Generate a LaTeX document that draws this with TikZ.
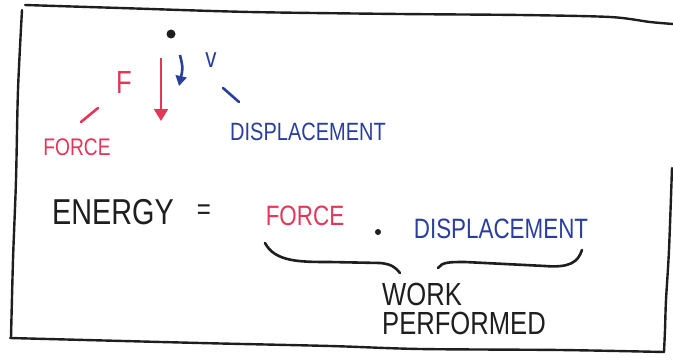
\documentclass[tikz,border=0pt]{standalone}
\usepackage{fontspec}
\setmainfont[FakeStretch=0.8]{Liberation Sans}
\usepackage{tikz}
\usetikzlibrary{arrows.meta}
\definecolor{wforce}{HTML}{E2365A}
\definecolor{wdisp}{HTML}{2A3F9C}
\definecolor{wink}{HTML}{1E1E1E}
\tikzset{wtext/.style={inner sep=0pt, anchor=center, text=wink}}
\tikzset{wforcetext/.style={wtext, text=wforce}}
\tikzset{wdisptext/.style={wtext, text=wdisp}}
\tikzset{wframe/.style={draw=wink, line width=2.4pt, line cap=round, line join=round}}
\tikzset{wforcevec/.style={-{Triangle[length=12pt, width=14pt]}, draw=wforce, line width=2.2pt}}
\tikzset{wdispvec/.style={-{Triangle[length=10pt, width=11pt]}, draw=wdisp, line width=2.6pt}}
\tikzset{wtick/.style={line width=2.6pt, line cap=round}}
\tikzset{wbrace/.style={draw=wink, line width=2.6pt, line cap=round}}

\begin{document}
\begin{tikzpicture}[x=1pt, y=-1pt]
  \useasboundingbox (0,0) rectangle (673,364);

  % hand-drawn frame
  \draw[wframe] plot[smooth] coordinates {(25,5) (120,8) (250,12) (400,14) (520,15) (610,17) (650,22) (673,24)};
  \draw[wframe] plot[smooth] coordinates {(22,10) (18,90) (16,180) (13,260) (11,338)};
  \draw[wframe] plot[smooth] coordinates {(10,338) (200,343) (330,346) (420,349) (560,350) (664,352)};
  \draw[wframe] plot[smooth] coordinates {(672,168) (669,250) (666,300) (665,330) (664,352)};

  % the body and its two vectors
  \node[circle, fill=wink, inner sep=0pt, minimum size=9pt] (body) at (171,34) {};
  \coordinate (ftail) at (161,58);
  \coordinate (fhead) at (161,121);
  \coordinate (vtail) at (180,55);
  \coordinate (vhead) at (179,86);
  \draw[wforcevec] (ftail) -- (fhead);
  \draw[wdispvec] (vtail) .. controls (183,68) .. (vhead);

  \node[wforcetext, font=\fontsize{32}{34}\selectfont] (fsym) at (124,82) {F};
  \node[wdisptext, font=\fontsize{28}{30}\selectfont] (vsym) at (211,60) {v};
  \node[wforcetext, font=\fontsize{24}{26}\selectfont] (forcelbl) at (77,147) {FORCE};
  \node[wdisptext, font=\fontsize{25}{27}\selectfont] (displbl) at (308,132) {DISPLACEMENT};

  \coordinate (ftick1) at (81,122);
  \coordinate (ftick2) at (98,108);
  \coordinate (vtick1) at (223,88);
  \coordinate (vtick2) at (239,102);
  \draw[wtick, draw=wforce] (ftick1) -- (ftick2);
  \draw[wtick, draw=wdisp] (vtick1) -- (vtick2);

  % the relation
  \node[wtext, font=\fontsize{36}{38}\selectfont] (energy) at (113,212) {ENERGY};
  \node[wtext, font=\fontsize{30}{32}\selectfont] (equals) at (204,212) {=};
  \node[wforcetext, font=\fontsize{28}{30}\selectfont] (force) at (305,216) {FORCE};
  \node[circle, fill=wink, inner sep=0pt, minimum size=6pt] (times) at (378,232) {};
  \node[wdisptext, font=\fontsize{28}{30}\selectfont] (disp) at (501,229) {DISPLACEMENT};

  % brace under the product
  \coordinate (bl) at (265,243);
  \coordinate (bm1) at (400,273);
  \coordinate (bm2) at (438,268);
  \coordinate (br) at (582,250);
  \draw[wbrace] (bl) .. controls (275,262) and (300,262) .. (330,262) -- (380,263) .. controls (392,264) and (396,268) .. (bm1);
  \draw[wbrace] (bm2) .. controls (442,262) and (450,262) .. (465,262) -- (545,266) .. controls (570,268) and (578,262) .. (br);

  \node[wtext, font=\fontsize{32}{34}\selectfont, anchor=west] (work) at (382,294) {WORK};
  \node[wtext, font=\fontsize{32}{34}\selectfont, anchor=west] (performed) at (382,323) {PERFORMED};
\end{tikzpicture}
\end{document}
